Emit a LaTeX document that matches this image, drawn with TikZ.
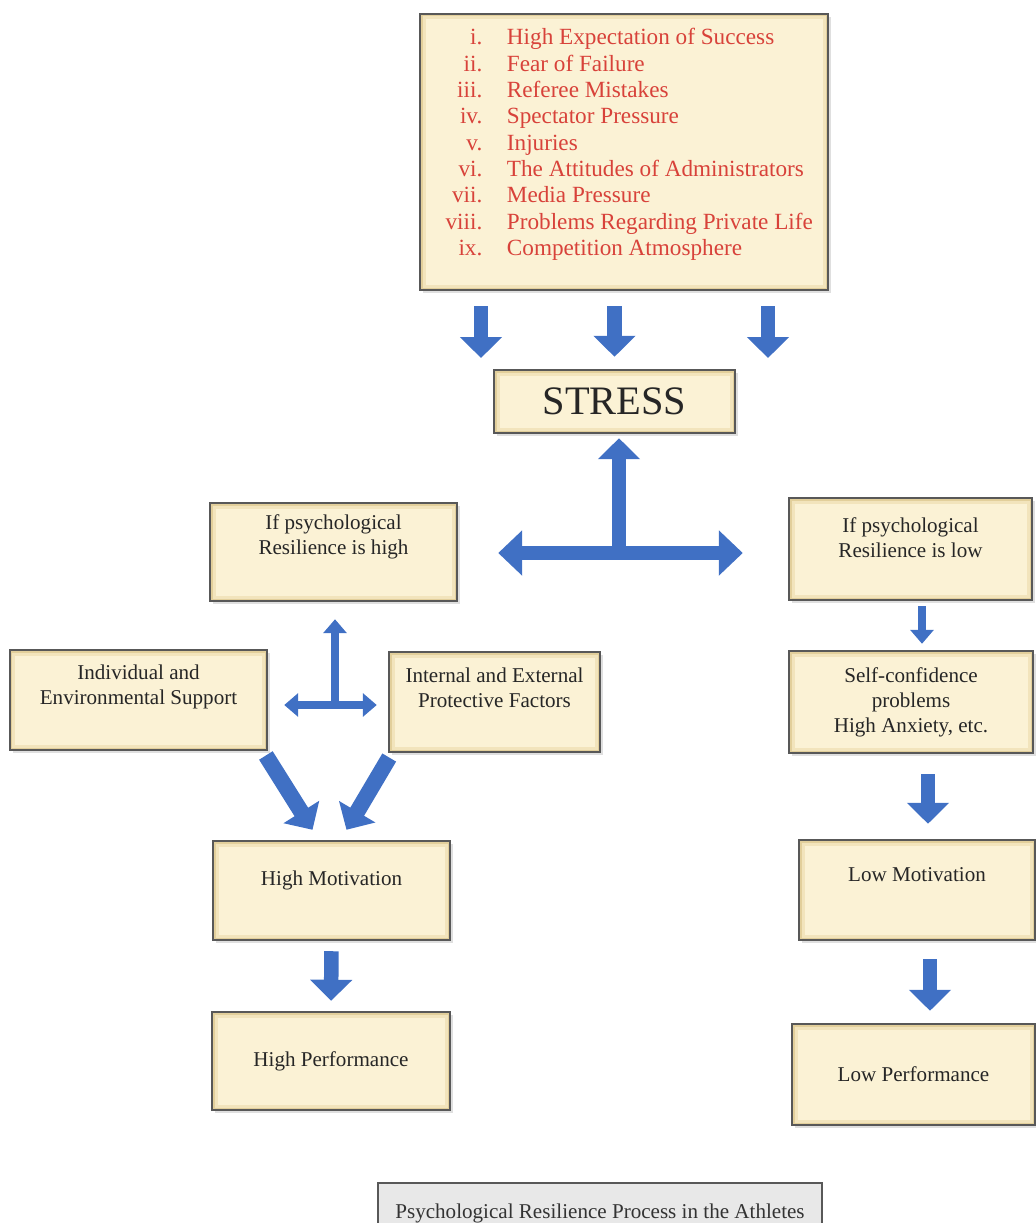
\documentclass[tikz,border=0pt]{standalone}
\usepackage{fontspec}
\setmainfont{Liberation Serif}
\usetikzlibrary{arrows.meta,calc,shadows}

\definecolor{boxcream}{RGB}{251,242,213}
\definecolor{boxmid}{RGB}{242,228,188}
\definecolor{boxbevel}{RGB}{226,207,155}
\definecolor{boxline}{RGB}{88,88,88}
\definecolor{arrowblue}{RGB}{64,112,196}
\definecolor{listred}{RGB}{216,66,58}
\definecolor{capgray}{RGB}{232,232,232}

\tikzset{
    boxdim/.style 2 args={minimum width=#1*0.02cm, minimum height=#2*0.02cm},
    rbox/.style={draw=boxline, line width=1.4pt, fill=boxbevel, inner sep=0pt, align=center,
        text=black!85, font=\fontsize{12}{14.2}\selectfont,
        drop shadow={opacity=0.25, shadow xshift=1.5pt, shadow yshift=-1.5pt},
        path picture={
            \fill[boxmid] ([shift={(0.05cm,-0.05cm)}]path picture bounding box.north west)
                rectangle ([shift={(-0.05cm,0.05cm)}]path picture bounding box.south east);
            \fill[boxcream] ([shift={(0.11cm,-0.11cm)}]path picture bounding box.north west)
                rectangle ([shift={(-0.11cm,0.11cm)}]path picture bounding box.south east);}},
    bigarrow/.style={draw=arrowblue, line width=0.29cm, -{Triangle[width=0.82cm, length=0.42cm]}},
    bigdouble/.style={draw=arrowblue, line width=0.29cm, {Triangle[width=0.88cm, length=0.48cm]}-{Triangle[width=0.88cm, length=0.48cm]}},
    smallarrow/.style={draw=arrowblue, line width=0.17cm, -{Triangle[width=0.46cm, length=0.28cm]}},
    smalldouble/.style={draw=arrowblue, line width=0.17cm, {Triangle[width=0.46cm, length=0.28cm]}-{Triangle[width=0.46cm, length=0.28cm]}}
}

% text block pushed up inside a fixed box
\newcommand{\uptext}[2]{\raisebox{#1}[0pt][0pt]{\begin{tabular}{@{}c@{}}#2\end{tabular}}}

\begin{document}
\begin{tikzpicture}[x=0.02cm, y=-0.02cm]
    \useasboundingbox (0,0) rectangle (1035,1223);

    % boxes
    \node[rbox, boxdim={408}{276}, text=listred, font=\fontsize{13.2}{15}\selectfont] (list) at (624,152) {\hspace{6pt}\raisebox{1pt}[0pt][0pt]{%
        \begin{tabular}{@{}r@{\hspace{14pt}}l@{}}
            i.    & High Expectation of Success \\
            ii.   & Fear of Failure \\
            iii.  & Referee Mistakes \\
            iv.   & Spectator Pressure \\
            v.    & Injuries \\
            vi.   & The Attitudes of Administrators \\
            vii.  & Media Pressure \\
            viii. & Problems Regarding Private Life \\
            ix.   & Competition Atmosphere
        \end{tabular}}};
    \node[rbox, boxdim={241}{63}, font=\fontsize{23}{26}\selectfont] (stress) at (614.5,401.5) {STRESS};
    \node[rbox, boxdim={247}{98}] (highres) at (333.5,552) {\uptext{5.5pt}{If psychological\\Resilience is high}};
    \node[rbox, boxdim={243}{102}] (lowres) at (910.5,549) {\uptext{2pt}{If psychological\\Resilience is low}};
    \node[rbox, boxdim={244}{102}] (selfconf) at (911,702) {Self-confidence\\problems\\High Anxiety, etc.};
    \node[rbox, boxdim={257}{100}] (indiv) at (138.5,700) {\uptext{4.5pt}{Individual and\\Environmental Support}};
    \node[rbox, boxdim={211}{100}] (internal) at (494.5,702) {\uptext{4pt}{Internal and External\\Protective Factors}};
    \node[rbox, boxdim={237}{99}] (highmot) at (331.5,890.5) {\uptext{2.5pt}{High Motivation}};
    \node[rbox, boxdim={238}{98}] (highperf) at (331,1061) {High Performance};
    \node[rbox, boxdim={236}{100}] (lowmot) at (917,890) {\uptext{4.5pt}{Low Motivation}};
    \node[rbox, boxdim={243}{101}] (lowperf) at (913.5,1074.5) {Low Performance};
    \node[draw=boxline, line width=1.4pt, fill=capgray, boxdim={444}{60}, text=black!80,
        font=\fontsize{12}{14}\selectfont] (caption) at (600,1213) {Psychological Resilience Process in the Athletes};

    % arrows - free ends are plain coordinates
    \coordinate (lft) at (481,358);
    \coordinate (rgt) at (768,358);
    \coordinate (j) at (619,553);
    \coordinate (k) at (335,705);
    \draw[bigarrow, shorten <=0.3cm] (list.south -| lft) -- (lft);                           % left stressor arrow
    \draw[bigarrow, shorten <=0.3cm, shorten >=0.24cm] (list.south -| stress) -- (stress.north);  % middle stressor arrow
    \draw[bigarrow, shorten <=0.3cm] (list.south -| rgt) -- (rgt);                           % right stressor arrow
    \draw[bigdouble, shorten <=0.8cm, shorten >=0.9cm] (highres.east |- j) -- (lowres.west |- j); % high / low split
    \draw[bigarrow, shorten >=0.08cm] (j) -- (stress.south -| j);                            % back up to stress
    \draw[smallarrow, shorten <=0.1cm, shorten >=0.12cm] ([xshift=0.23cm]lowres.south) -- ([xshift=0.23cm]lowres.south |- selfconf.north);
    \draw[bigarrow, shorten <=0.4cm, shorten >=0.3cm] ([xshift=0.22cm]lowmot.north |- selfconf.south) -- ([xshift=0.22cm]lowmot.north);
    \draw[bigarrow, shorten <=0.36cm, shorten >=0.24cm] ([xshift=0.26cm]lowmot.south) -- ([xshift=0.26cm]lowmot.south |- lowperf.north);
    \draw[smalldouble, shorten <=0.32cm, shorten >=0.22cm] (indiv.east |- k) -- (internal.west |- k); % support / factors
    \draw[smallarrow, shorten >=0.34cm] (k) -- (highres.south -| k);                        % up to high resilience
    \draw[bigarrow, line width=0.32cm, shorten <=0.1cm] ([xshift=-0.1cm]indiv.south east) -- ([xshift=-0.38cm, yshift=0.2cm]highmot.north);
    \draw[bigarrow, line width=0.32cm, shorten <=0.1cm] ([xshift=0.08cm]internal.south west) -- ([xshift=0.3cm, yshift=0.2cm]highmot.north);
    \draw[bigarrow, shorten <=0.2cm, shorten >=0.2cm] (highmot.south) -- (highperf.north);  % motivation to performance
\end{tikzpicture}
\end{document}
